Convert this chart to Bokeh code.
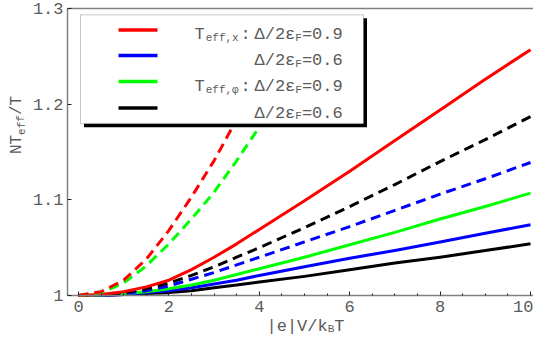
from bokeh.plotting import figure
from bokeh.models import Range1d, FixedTicker, Label, BoxAnnotation, LinearAxis
from bokeh.embed import file_html
from bokeh.resources import INLINE

# ---------------- data ----------------
x_main = [0, 0.5, 1, 1.5, 2, 2.5, 3, 3.5, 4, 5, 6, 7, 8, 9, 10]
red_solid = [1.000, 1.001, 1.004, 1.009, 1.016, 1.027, 1.040, 1.054, 1.069, 1.099, 1.130, 1.162, 1.194, 1.226, 1.257]
black_dashed = [1.000, 1.001, 1.003, 1.007, 1.013, 1.021, 1.030, 1.040, 1.050, 1.071, 1.093, 1.116, 1.140, 1.163, 1.187]
blue_dashed = [1.000, 1.001, 1.002, 1.005, 1.010, 1.017, 1.024, 1.032, 1.040, 1.056, 1.072, 1.089, 1.106, 1.122, 1.139]
green_solid = [1.000, 1.0005, 1.002, 1.004, 1.007, 1.011, 1.016, 1.022, 1.028, 1.040, 1.053, 1.066, 1.080, 1.093, 1.107]
blue_solid = [1.000, 1.000, 1.001, 1.003, 1.005, 1.008, 1.012, 1.016, 1.021, 1.030, 1.039, 1.047, 1.056, 1.065, 1.074]
black_solid = [1.000, 1.000, 1.001, 1.002, 1.003, 1.005, 1.008, 1.011, 1.014, 1.020, 1.027, 1.034, 1.040, 1.047, 1.054]

x_red_dashed = [0, 0.5, 1, 1.5, 2, 2.5, 3, 3.5, 4, 4.5, 4.7]
red_dashed = [1.000, 1.004, 1.016, 1.038, 1.068, 1.103, 1.141, 1.184, 1.230, 1.280, 1.298]

x_green_dashed = [0, 0.5, 1, 1.5, 2, 2.5, 3, 3.5, 4, 4.5, 5, 5.5]
green_dashed = [1.000, 1.003, 1.013, 1.031, 1.054, 1.080, 1.108, 1.141, 1.176, 1.213, 1.252, 1.292]

x_tick_values = [0, 2, 4, 6, 8, 10]
x_minor_values = [0.5, 1, 1.5, 2.5, 3, 3.5, 4.5, 5, 5.5, 6.5, 7, 7.5, 8.5, 9, 9.5]
y_tick_values = [1.0, 1.1, 1.2, 1.3]
y_tick_labels = ["1", "1.1", "1.2", "1.3"]

legend_entries = [
    ("#ff0000", "x", "0.9"),
    ("#0000ff", None, "0.6"),
    ("#00ff00", "\u03c6", "0.9"),
    ("#000000", None, "0.6"),
]

# ---------------- geometry ----------------
W, H = 533, 337
PX_X = 45.2            # px per x unit
X0_PX = 78             # x = 0 at this pixel
Y1_PX, Y13_PX = 295, 8  # y = 1.0 / 1.3 at these pixels
PX_Y = (Y1_PX - Y13_PX) / 0.3
AXIS_X = -11 / PX_X     # left axis location (data)

x_start = -X0_PX / PX_X
x_end = (W - X0_PX) / PX_X
y_end = 1.3 + Y13_PX / PX_Y
y_start = 1.0 - (H - Y1_PX) / PX_Y

FONT = "Liberation Mono"
TXT = "#5a5a5a"
AX = "#808080"

p = figure(width=W, height=H,
           x_range=Range1d(x_start, x_end), y_range=Range1d(y_start, y_end),
           x_axis_location=None, y_axis_location=None,
           output_backend="svg", toolbar_location=None,
           min_border=0)
p.grid.visible = False
p.outline_line_color = None
p.background_fill_color = "white"
p.border_fill_color = "white"


def style_axis(ax):
    ax.axis_line_color = AX
    ax.axis_line_width = 1.5
    ax.major_tick_in = 4
    ax.major_tick_out = 0
    ax.minor_tick_in = 2
    ax.minor_tick_out = 0
    ax.major_tick_line_color = "#222222"
    ax.minor_tick_line_color = "#222222"
    ax.major_label_text_font = FONT
    ax.major_label_text_font_size = "17px"
    ax.major_label_text_color = TXT


xaxis = LinearAxis(fixed_location=1.0, bounds=(AXIS_X, x_end),
                   ticker=FixedTicker(ticks=x_tick_values, minor_ticks=x_minor_values))
style_axis(xaxis)
xaxis.major_label_standoff = 5
p.add_layout(xaxis, "below")

yaxis = LinearAxis(fixed_location=AXIS_X, bounds=(1.0, 1.3),
                   ticker=FixedTicker(ticks=y_tick_values, minor_ticks=[]))
style_axis(yaxis)
yaxis.major_label_overrides = dict(zip(y_tick_values, y_tick_labels))
yaxis.major_label_standoff = 4
p.add_layout(yaxis, "left")

top = LinearAxis(fixed_location=1.3, bounds=(AXIS_X, x_end),
                 ticker=FixedTicker(ticks=[], minor_ticks=[]))
top.axis_line_color = AX
top.axis_line_width = 1.5
top.major_label_text_font_size = "0px"
top.major_tick_line_color = None
top.minor_tick_line_color = None
p.add_layout(top, "above")

LW = 3
DASH = "10 6"
kw = dict(line_width=LW, line_join="round")
p.line(x_main, black_solid, line_color="#000000", **kw)
p.line(x_main, blue_solid, line_color="#0000ff", **kw)
p.line(x_main, green_solid, line_color="#00ff00", **kw)
p.line(x_main, blue_dashed, line_color="#0000ff", line_dash=DASH, **kw)
p.line(x_main, black_dashed, line_color="#000000", line_dash=DASH, **kw)
p.line(x_main, red_solid, line_color="#ff0000", **kw)
p.line(x_green_dashed, green_dashed, line_color="#00ff00", line_dash=DASH, **kw)
p.line(x_red_dashed, red_dashed, line_color="#ff0000", line_dash=DASH, **kw)


# ---------------- annotations (screen units: px from figure bottom-left) ----------------
def sy(img_y):
    return H - img_y


def sbox(l, r, t_img, b_img, **kw):
    p.add_layout(BoxAnnotation(left=l, right=r, bottom=sy(b_img), top=sy(t_img),
                               left_units="screen", right_units="screen",
                               bottom_units="screen", top_units="screen", **kw))


def stext(x, y_img, text, size, angle=0.0, align="left", baseline="alphabetic"):
    p.add_layout(Label(x=x, y=sy(y_img), x_units="screen", y_units="screen", text=text,
                       text_font=FONT, text_font_size=size, text_color=TXT,
                       text_align=align, text_baseline=baseline, angle=angle))


MAIN = 17
SUB = 11
ADV = MAIN * 0.6
SADV = SUB * 0.6

# legend box with drop shadow
sbox(83.5, 366.5, 17.8, 126.8, fill_color="black", fill_alpha=1.0, line_color=None)
sbox(80, 363, 14.3, 123.3, fill_color="white", fill_alpha=1.0, line_color="#444444", line_width=1)

row_y = [29.4, 55.1, 81.1, 107.6]
for (color, kind, val), ry in zip(legend_entries, row_y):
    sbox(118, 157, ry - 1.75, ry + 1.75, fill_color=color, fill_alpha=1.0, line_color=None)
    base = ry + 5
    sub_base = ry + 8
    xd = 254
    if kind is not None:
        stext(194, base, "T", f"{MAIN}px")
        stext(194 + ADV + 1, sub_base, "eff," + kind, f"{SUB}px")
        stext(240, base, ":", f"{MAIN}px")
    stext(xd, base, "\u0394/2\u03b5", f"{MAIN}px")
    xs = xd + 4 * ADV
    stext(xs, sub_base, "F", f"{SUB}px")
    stext(xs + SADV, base, "=" + val, f"{MAIN}px")

# x axis label: |e|V/k_B T
xl = 266
stext(xl, 326, "|e|V/k", f"{MAIN}px")
stext(xl + 6 * ADV, 328.5, "B", f"{SUB}px")
stext(xl + 6 * ADV + SADV, 326, "T", f"{MAIN}px")

# y axis label: N T_eff / T (rotated, centre-anchored pieces)
YM = 16
YS = 11
ya = YM * 0.6
ysa = YS * 0.6
y0 = 153.6
ANG = 1.5708
stext(16.5, y0 - ya, "NT", f"{YM}px", angle=ANG, align="center", baseline="middle")
stext(21, y0 - 2 * ya - 1.5 * ysa, "eff", f"{YS}px", angle=ANG, align="center", baseline="middle")
stext(16.5, y0 - 2 * ya - 3 * ysa - ya, "/T", f"{YM}px", angle=ANG, align="center", baseline="middle")

open("out.html", "w").write(file_html(p, INLINE))
